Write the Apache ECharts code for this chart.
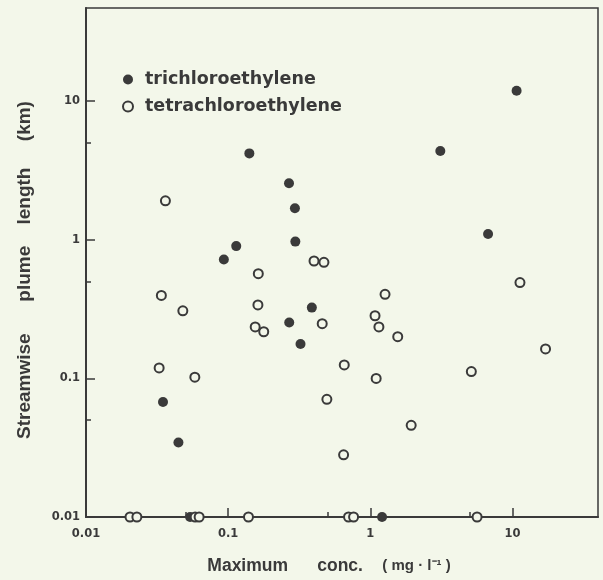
<!DOCTYPE html>
<html>
<head>
<meta charset="utf-8">
<script src="https://cdn.jsdelivr.net/npm/echarts@6/dist/echarts.min.js"></script>
<style>
  html, body { margin: 0; padding: 0; background: #f3f7ea; }
  #main { width: 603px; height: 580px; }
</style>
</head>
<body>
<div id="main"></div>
<script>
// trichloroethylene (filled dots)
const tceConc   = [10.7, 3.11, 0.141, 0.268, 0.295, 0.297, 0.114, 0.0933, 6.74, 0.388, 0.269, 0.323, 0.0348, 0.0447, 0.054, 1.21];
const tceLength = [11.9, 4.37, 4.2,   2.56,  1.69,  0.97,  0.90,  0.72,   1.10, 0.324, 0.253, 0.177, 0.0675, 0.0345, 0.01, 0.01];

// tetrachloroethylene (open circles)
const pceConc   = [0.0362, 0.163, 0.402, 0.472, 11.3, 0.0339, 0.048, 0.162, 0.155, 0.178, 0.459, 1.27, 1.08, 1.15, 1.56, 17.1,
                   0.656, 5.14, 1.10, 0.495, 1.94, 0.649, 0.0327, 0.0583, 0.0204, 0.0228, 0.0586, 0.0625, 0.139, 0.703, 0.763, 5.64];
const pceLength = [1.91, 0.569, 0.703, 0.687, 0.491, 0.397, 0.307, 0.339, 0.235, 0.217, 0.248, 0.404, 0.283, 0.235, 0.200, 0.163,
                   0.125, 0.112, 0.100, 0.0706, 0.0459, 0.0281, 0.119, 0.102, 0.01, 0.01, 0.01, 0.01, 0.01, 0.01, 0.01, 0.01];

const seriesNames = ['trichloroethylene', 'tetrachloroethylene'];
const minorTicks = [0.05, 0.5, 5];

const ink = '#3a3a3a';
const bg = '#f3f7ea';

function pairs(xs, ys) {
  return xs.map((x, i) => [x, ys[i]]);
}
function fmt(v) {
  return String(Number(v.toPrecision(3)));
}

const labelStyle = {
  color: ink,
  fontFamily: 'DejaVu Sans',
  fontWeight: 'bold',
  fontSize: 11.5
};

const myChart = echarts.init(document.getElementById('main'));
myChart.setOption({
  backgroundColor: bg,
  animation: false,
  grid: {
    left: 86, right: 5, top: 8, bottom: 61,
    show: true,
    borderColor: ink,
    borderWidth: 1.5,
    backgroundColor: 'transparent'
  },
  legend: {
    data: seriesNames,
    orient: 'vertical',
    left: 117,
    top: 64,
    itemWidth: 10,
    itemHeight: 10,
    itemGap: 6,
    selectedMode: false,
    textStyle: {
      color: ink,
      fontFamily: 'DejaVu Sans',
      fontWeight: 'bold',
      fontSize: 17.5,
      lineHeight: 21,
      padding: [0, 0, 0, 7]
    }
  },
  xAxis: [
    {
      type: 'log',
      logBase: 10,
      min: 0.01,
      max: 40,
      interval: 1,
      position: 'bottom',
      name: 'Maximum      conc.    {u|( mg · l⁻¹ )}',
      nameLocation: 'middle',
      nameGap: 40,
      nameTextStyle: {
        color: ink,
        fontFamily: 'Liberation Sans',
        fontWeight: 'bold',
        fontSize: 17.5,
        padding: [0, 26, 0, 0],
        rich: {
          u: { fontFamily: 'Liberation Sans', fontWeight: 'bold', fontSize: 15, color: ink }
        }
      },
      axisLine: { lineStyle: { color: ink, width: 2 } },
      axisTick: { inside: true, length: 9, lineStyle: { color: ink, width: 1.5 } },
      axisLabel: Object.assign({ margin: 11, showMaxLabel: false, formatter: fmt }, labelStyle),
      splitLine: { show: false }
    },
    {
      type: 'log',
      logBase: 10,
      min: 0.01,
      max: 40,
      position: 'bottom',
      axisLine: { show: false },
      axisTick: { inside: true, length: 5, customValues: minorTicks, lineStyle: { color: ink, width: 1.5 } },
      axisLabel: { show: false },
      splitLine: { show: false }
    }
  ],
  yAxis: [
    {
      type: 'log',
      logBase: 10,
      min: 0.01,
      max: 47,
      interval: 1,
      position: 'left',
      name: 'Streamwise      plume    length     (km)',
      nameLocation: 'middle',
      nameGap: 52,
      nameTextStyle: {
        color: ink,
        fontFamily: 'Liberation Sans',
        fontWeight: 'bold',
        fontSize: 19,
        padding: [0, 15, 0, 0]
      },
      axisLine: { lineStyle: { color: ink, width: 2 } },
      axisTick: { inside: true, length: 9, lineStyle: { color: ink, width: 1.5 } },
      axisLabel: Object.assign({ margin: 6, showMaxLabel: false, formatter: fmt }, labelStyle),
      splitLine: { show: false }
    },
    {
      type: 'log',
      logBase: 10,
      min: 0.01,
      max: 47,
      position: 'left',
      axisLine: { show: false },
      axisTick: { inside: true, length: 5, customValues: minorTicks, lineStyle: { color: ink, width: 1.5 } },
      axisLabel: { show: false },
      splitLine: { show: false }
    }
  ],
  series: [
    {
      name: seriesNames[0],
      type: 'scatter',
      clip: false,
      symbol: 'circle',
      symbolSize: 10,
      itemStyle: { color: ink, opacity: 1 },
      data: pairs(tceConc, tceLength),
      z: 3
    },
    {
      name: seriesNames[1],
      type: 'scatter',
      clip: false,
      symbol: 'circle',
      symbolSize: 9,
      itemStyle: { color: bg, borderColor: ink, borderWidth: 2, opacity: 1 },
      data: pairs(pceConc, pceLength),
      z: 4
    }
  ]
});
</script>
</body>
</html>
